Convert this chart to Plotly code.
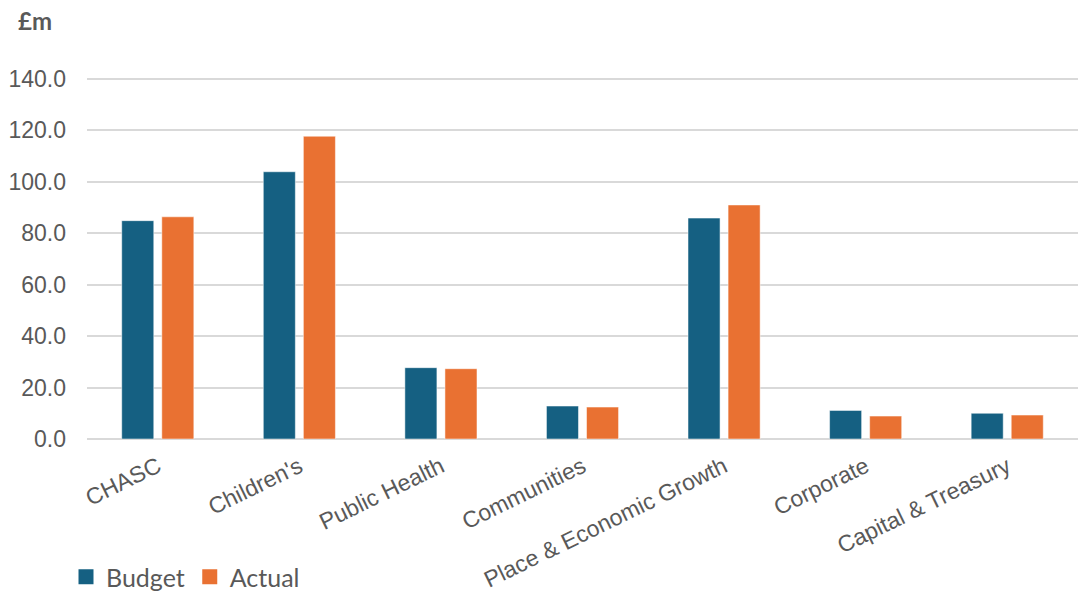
import plotly.graph_objects as go

categories = ["CHASC", "Children's", "Public Health", "Communities",
              "Place & Economic Growth", "Corporate", "Capital & Treasury"]
budget = [84.8, 103.8, 27.7, 12.8, 85.8, 11.1, 10.0]
actual = [86.3, 117.6, 27.3, 12.4, 90.9, 8.9, 9.3]
series_names = ["Budget", "Actual"]
series_colors = ["#156082", "#E97132"]
y_ticks = [0, 20, 40, 60, 80, 100, 120, 140]
y_tick_labels = ["0.0", "20.0", "40.0", "60.0", "80.0", "100.0", "120.0", "140.0"]

fig = go.Figure()
for name, vals, col in zip(series_names, [budget, actual], series_colors):
    fig.add_trace(go.Bar(name=name, x=categories, y=vals, showlegend=False,
                         marker=dict(color=col, line=dict(color="rgba(255,255,255,0.5)", width=1))))
# legend entries with larger square swatches
for name, col in zip(series_names, series_colors):
    fig.add_trace(go.Scatter(name=name, x=[None], y=[None], mode="markers",
                             marker=dict(symbol="square", size=15, color=col),
                             showlegend=True))

W, H = 1078, 595
ml, mr, mt, mb = 87, 0, 77, 156
pw = W - ml - mr
ph = H - mt - mb

fig.update_layout(
    width=W, height=H,
    margin=dict(l=ml, r=mr, t=mt, b=mb, pad=0, autoexpand=False),
    paper_bgcolor="white", plot_bgcolor="white",
    barmode="group", bargap=0.434, bargroupgap=0.2,
    showlegend=True,
    legend=dict(orientation="h", x=(66 - ml) / pw, y=(439 - 577) / ph,
                xanchor="left", yanchor="middle",
                font=dict(family="Lato", size=25, color="#595959"),
                itemwidth=30, tracegroupgap=0, bgcolor="rgba(0,0,0,0)"),
    font=dict(family="Liberation Sans, Arial", color="#595959"),
)
fig.update_yaxes(range=[0, 140.6], tickvals=y_ticks, ticktext=y_tick_labels,
                 showgrid=True, gridcolor="#d9d9d9", gridwidth=1.5,
                 zeroline=True, zerolinecolor="#d9d9d9", zerolinewidth=1.5,
                 showline=False, ticks="", ticklabelstandoff=20, automargin=False,
                 tickfont=dict(family="Liberation Sans, Arial", size=23, color="#595959"),
                 fixedrange=True)
fig.update_xaxes(tickangle=-26, showline=False, showgrid=False, ticks="",
                 ticklabelstandoff=9, automargin=False,
                 tickfont=dict(family="Liberation Sans, Arial", size=23, color="#595959"),
                 fixedrange=True)
fig.add_annotation(text="<b>£m</b>", xref="paper", yref="paper",
                   x=(16 - ml) / pw, y=(439 - 21) / ph, xanchor="left", yanchor="middle",
                   showarrow=False, font=dict(family="Lato", size=24, color="#595959"))

fig.write_html("out.html")
